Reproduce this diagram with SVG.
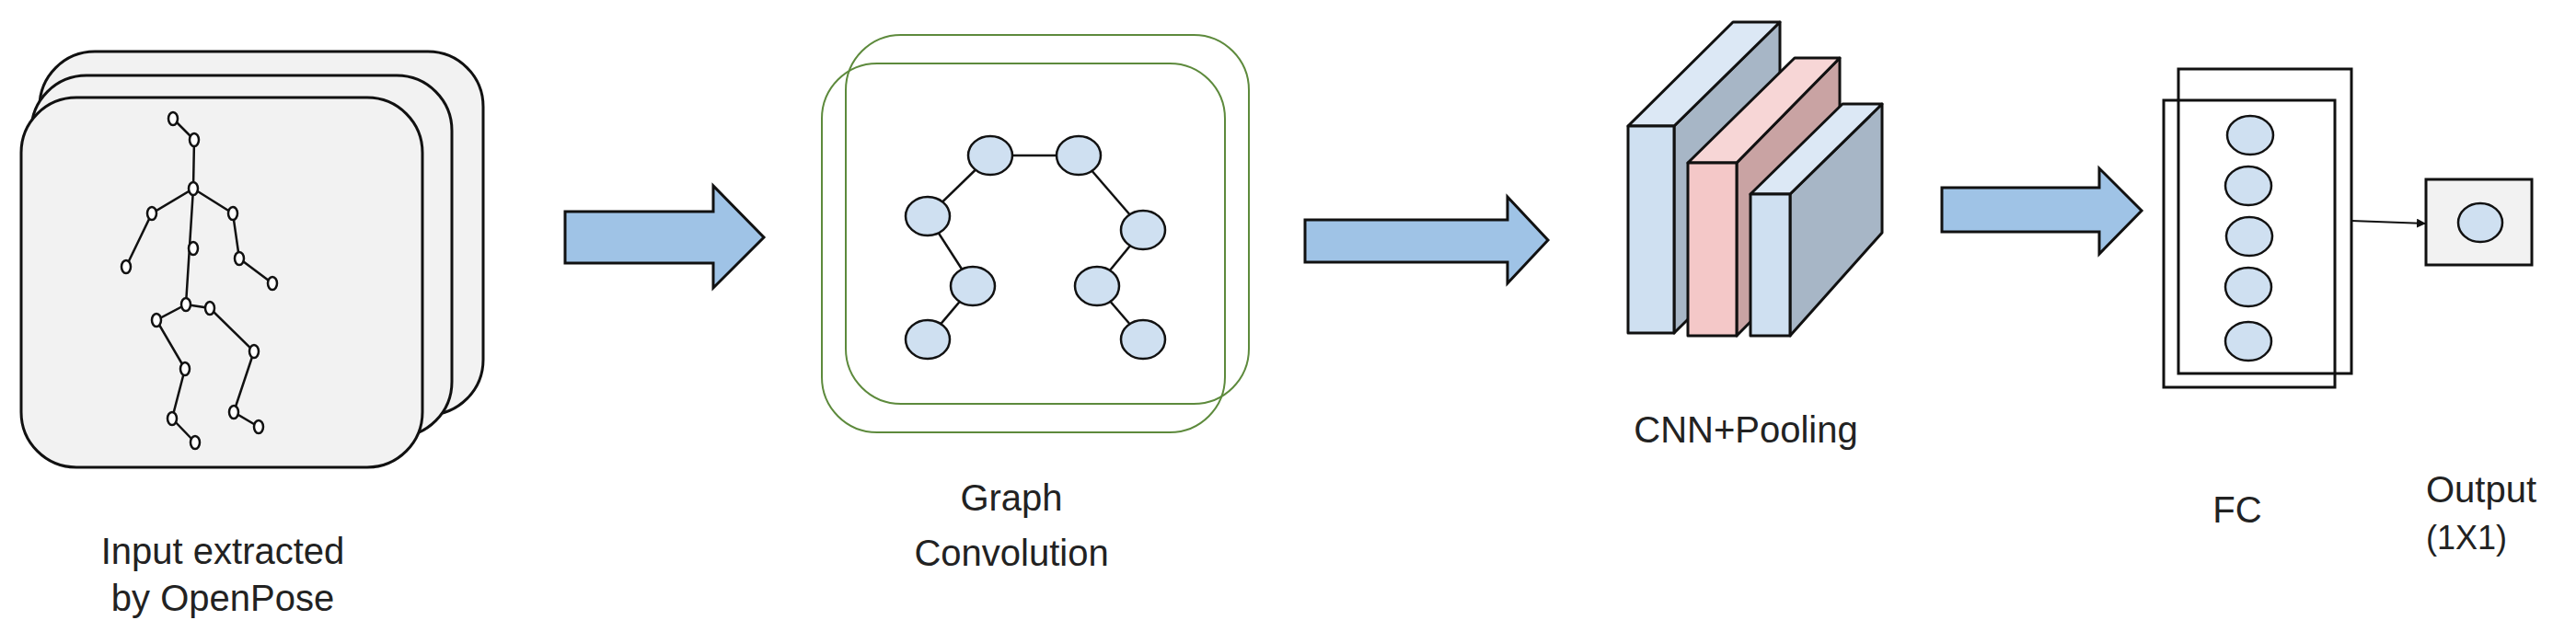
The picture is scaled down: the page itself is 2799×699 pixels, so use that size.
<svg xmlns="http://www.w3.org/2000/svg" width="2799" height="699" viewBox="0 0 2799 699">
<defs>
<style>
.card{fill:#f2f2f2;stroke:#111;stroke-width:3}
.sk{fill:none;stroke:#111;stroke-width:2.5}
.jn{fill:#fff;stroke:#111;stroke-width:2.5}
.gb{fill:none;stroke:#5d8a3c;stroke-width:2}
.ed{stroke:#111;stroke-width:2.5}
.nd{fill:#cfe0f1;stroke:#111;stroke-width:2.5}
.big{fill:#9fc3e6;stroke:#111;stroke-width:3}
.lbl{font-family:"Liberation Sans",Arial,sans-serif;font-size:40px;fill:#222;text-anchor:middle}
.fr{stroke:#111;stroke-width:3;stroke-linejoin:round}
</style>
<marker id="ah" viewBox="0 0 10 10" refX="10" refY="5" markerWidth="5" markerHeight="5" orient="auto"><path d="M0,0L10,5L0,10z" fill="#111"/></marker>
</defs>
<rect width="2799" height="699" fill="#fff"/>
<g id="input">
<rect class="card" x="43" y="56" width="482" height="395" rx="60"/>
<rect class="card" x="34" y="82" width="457" height="393" rx="60"/>
<rect class="card" x="23" y="106" width="436" height="402" rx="60"/>
<g class="sk">
<polyline points="188,129 211,152 210,205 165,232 137,290"/>
<polyline points="210,205 253,232 260,281 296,308"/>
<polyline points="210,205 202,331 170,348 201,401 187,455 212,481"/>
<polyline points="202,331 228,335 276,382 254,448 281,464"/>
</g>
<g class="jn">
<ellipse cx="188" cy="129" rx="5" ry="7"/><ellipse cx="211" cy="152" rx="5" ry="7"/><ellipse cx="210" cy="205" rx="5" ry="7"/>
<ellipse cx="165" cy="232" rx="5" ry="7"/><ellipse cx="137" cy="290" rx="5" ry="7"/><ellipse cx="253" cy="232" rx="5" ry="7"/>
<ellipse cx="260" cy="281" rx="5" ry="7"/><ellipse cx="296" cy="308" rx="5" ry="7"/><ellipse cx="210" cy="270" rx="5" ry="7"/>
<ellipse cx="202" cy="331" rx="5" ry="7"/><ellipse cx="170" cy="348" rx="5" ry="7"/><ellipse cx="228" cy="335" rx="5" ry="7"/>
<ellipse cx="201" cy="401" rx="5" ry="7"/><ellipse cx="276" cy="382" rx="5" ry="7"/><ellipse cx="187" cy="455" rx="5" ry="7"/>
<ellipse cx="212" cy="481" rx="5" ry="7"/><ellipse cx="254" cy="448" rx="5" ry="7"/><ellipse cx="281" cy="464" rx="5" ry="7"/>
</g>
<text class="lbl" x="242" y="613">Input extracted</text>
<text class="lbl" x="242" y="664">by OpenPose</text>
</g>
<g id="graphconv">
<rect class="gb" x="919" y="38" width="438" height="401" rx="60"/>
<rect class="gb" x="893" y="69" width="438" height="401" rx="60"/>
<g class="ed">
<line x1="1076" y1="169" x2="1172" y2="169"/><line x1="1076" y1="169" x2="1008" y2="235"/>
<line x1="1008" y1="235" x2="1057" y2="311"/><line x1="1057" y1="311" x2="1008" y2="369"/>
<line x1="1172" y1="169" x2="1242" y2="250"/><line x1="1242" y1="250" x2="1192" y2="311"/>
<line x1="1192" y1="311" x2="1242" y2="369"/>
</g>
<g class="nd">
<ellipse cx="1076" cy="169" rx="24" ry="21"/><ellipse cx="1172" cy="169" rx="24" ry="21"/>
<ellipse cx="1008" cy="235" rx="24" ry="21"/><ellipse cx="1242" cy="250" rx="24" ry="21"/>
<ellipse cx="1057" cy="311" rx="24" ry="21"/><ellipse cx="1192" cy="311" rx="24" ry="21"/>
<ellipse cx="1008" cy="369" rx="24" ry="21"/><ellipse cx="1242" cy="369" rx="24" ry="21"/>
</g>
<text class="lbl" x="1099" y="555">Graph</text>
<text class="lbl" x="1099" y="615">Convolution</text>
</g>
<g id="cnn">
<polygon class="fr" points="1819,137 1934,24 1934,248 1819,362" fill="#a7b6c6"/>
<polygon class="fr" points="1769,137 1883,24 1934,24 1819,137" fill="#dce8f5"/>
<rect class="fr" x="1769" y="137" width="50" height="225" fill="#cfe0f1"/>
<polygon class="fr" points="1887,177 1999,63 1999,252 1887,365" fill="#c9a3a3"/>
<polygon class="fr" points="1834,177 1950,63 1999,63 1887,177" fill="#f7d6d6"/>
<rect class="fr" x="1834" y="177" width="53" height="188" fill="#f4c8c8"/>
<polygon class="fr" points="1945,211 2045,113 2045,253 1945,365" fill="#a7b6c6"/>
<polygon class="fr" points="1902,211 2002,113 2045,113 1945,211" fill="#dce8f5"/>
<rect class="fr" x="1902" y="211" width="43" height="154" fill="#cfe0f1"/>
<text class="lbl" x="1897" y="481">CNN+Pooling</text>
</g>
<g id="fc">
<rect x="2367" y="75" width="188" height="331" fill="none" stroke="#111" stroke-width="3"/>
<rect x="2351" y="109" width="186" height="312" fill="none" stroke="#111" stroke-width="3"/>
<g class="nd">
<ellipse cx="2445" cy="147" rx="25" ry="21"/><ellipse cx="2443" cy="202" rx="25" ry="21"/>
<ellipse cx="2444" cy="257" rx="25" ry="21"/><ellipse cx="2443" cy="312" rx="25" ry="21"/>
<ellipse cx="2443" cy="371" rx="25" ry="21"/>
</g>
<text class="lbl" x="2431" y="568">FC</text>
</g>
<g id="output">
<rect x="2636" y="195" width="115" height="93" fill="#f2f2f2" stroke="#111" stroke-width="3"/>
<ellipse class="nd" cx="2695" cy="242" rx="24" ry="21"/>
<text class="lbl" x="2636" y="546" style="text-anchor:start">Output</text>
<text class="lbl" x="2636" y="597" style="text-anchor:start;font-size:36px">(1X1)</text>
</g>
<g id="connectors">
<polygon class="big" points="614,230 775,230 775,202 830,258 775,313 775,286 614,286"/>
<polygon class="big" points="1418,239 1638,239 1638,214 1682,261 1638,308 1638,285 1418,285"/>
<polygon class="big" points="2110,204 2281,204 2281,183 2327,229 2281,276 2281,252 2110,252"/>
<line x1="2555" y1="240" x2="2636" y2="243" stroke="#111" stroke-width="2" marker-end="url(#ah)"/>
</g>
</svg>
